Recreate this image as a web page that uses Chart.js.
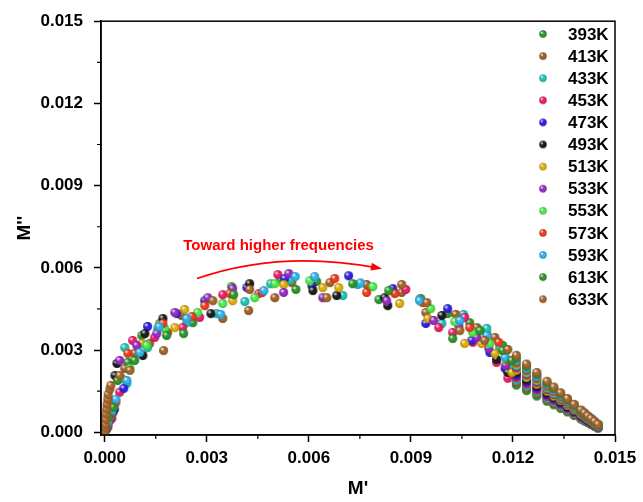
<!doctype html>
<html lang="en">
<head>
<meta charset="utf-8">
<title>Modulus plot M'' vs M'</title>
<script src="https://cdn.jsdelivr.net/npm/chart.js"></script>
<style>
  html, body { margin: 0; padding: 0; background: #fff; }
  #wrap { width: 643px; height: 502px; }
</style>
</head>
<body>
<div id="wrap"><canvas id="chart" width="643" height="502"></canvas></div>
<script>
// temperatures and their colours
const temps = ['393K','413K','433K','453K','473K','493K','513K','533K','553K','573K','593K','613K','633K'];
const colors = ['#2e9e35','#a5642b','#22c7bd','#ef1f6c','#3323e6','#1e1e1e','#e3b20c','#9a2fc4','#4df04d','#f2401e','#33b8f2','#2f9a2f','#a9692d'];
const xTicks = [0, 0.003, 0.006, 0.009, 0.012, 0.015];
const yTicks = [0, 0.003, 0.006, 0.009, 0.012, 0.015];

// [M', M'']
const t393 = [[0.00003,0.00007],[0.00006,0.00029],[0.00012,0.00062],[0.00018,0.00098],[0.00038,0.00200],[0.00068,0.00255],[0.00109,0.00353],[0.00162,0.00397],[0.00259,0.00400],[0.00373,0.00531],[0.00517,0.00557],[0.00623,0.00550],[0.00806,0.00484],[0.00929,0.00488],[0.01008,0.00433],[0.01073,0.00400],[0.01123,0.00360],[0.01170,0.00317],[0.01185,0.00262],[0.01197,0.00218],
  [0.0121,0.00172],[0.0124,0.00152],[0.0127,0.00132],[0.0130,0.00113],[0.0132,0.00100],[0.0134,0.00087],[0.0136,0.00074],[0.0138,0.00061],[0.0140,0.00048],[0.0141,0.00041],[0.0142,0.00035],[0.0143,0.00028],[0.0144,0.00022],[0.0145,0.00015]];
const t413 = [[0.00003,0.00015],[0.00009,0.00051],[0.00015,0.00087],[0.00059,0.00233],[0.00088,0.00288],[0.00132,0.00324],[0.00185,0.00364],[0.00226,0.00426],[0.00347,0.00415],[0.00423,0.00444],[0.00500,0.00491],[0.00550,0.00546],[0.00662,0.00546],[0.00770,0.00539],[0.00873,0.00510],[0.00944,0.00437],[0.01032,0.00430],[0.01094,0.00382],[0.01147,0.00346],[0.01177,0.00291],[0.01197,0.00233],
  [0.0121,0.00181],[0.0124,0.00160],[0.0127,0.00140],[0.0130,0.00119],[0.0132,0.00105],[0.0134,0.00092],[0.0136,0.00078],[0.0138,0.00064],[0.0140,0.00050],[0.0141,0.00044],[0.0142,0.00037],[0.0143,0.00030],[0.0144,0.00023],[0.0145,0.00016]];
const t433 = [[0.00006,0.00022],[0.00015,0.00066],[0.00024,0.00102],[0.00065,0.00178],[0.00059,0.00309],[0.00126,0.00309],[0.00156,0.00379],[0.00241,0.00400],[0.00329,0.00433],[0.00412,0.00477],[0.00488,0.00542],[0.00545,0.00556],[0.00700,0.00499],[0.00744,0.00539],[0.00926,0.00484],[0.00991,0.00397],[0.01055,0.00430],[0.01123,0.00379],[0.01161,0.00309],[0.01191,0.00244],
  [0.0121,0.00190],[0.0124,0.00168],[0.0127,0.00147],[0.0130,0.00125],[0.0132,0.00111],[0.0134,0.00096],[0.0136,0.00082],[0.0138,0.00068],[0.0140,0.00053],[0.0141,0.00046],[0.0142,0.00039],[0.0143,0.00032],[0.0144,0.00024],[0.0145,0.00017]];
const t453 = [[0.00009,0.00025],[0.00021,0.00051],[0.00027,0.00116],[0.00044,0.00146],[0.00082,0.00335],[0.00147,0.00346],[0.00229,0.00382],[0.00279,0.00419],[0.00347,0.00502],[0.00453,0.00506],[0.00509,0.00575],[0.00885,0.00521],[0.00982,0.00382],[0.01023,0.00364],[0.01058,0.00419],[0.01082,0.00328],[0.01152,0.00255],[0.01185,0.00197],
  [0.0121,0.00199],[0.0124,0.00176],[0.0127,0.00154],[0.0130,0.00131],[0.0132,0.00116],[0.0134,0.00101],[0.0136,0.00086],[0.0138,0.00071],[0.0140,0.00056],[0.0141,0.00049],[0.0142,0.00041],[0.0143,0.00034],[0.0144,0.00026],[0.0145,0.00019]];
const t473 = [[0.00006,0.00018],[0.00015,0.00047],[0.00029,0.00084],[0.00056,0.00160],[0.00126,0.00386],[0.00212,0.00433],[0.00294,0.00480],[0.00418,0.00528],[0.00529,0.00561],[0.00609,0.00535],[0.00717,0.00571],[0.00847,0.00524],[0.00944,0.00397],[0.01008,0.00451],[0.01079,0.00335],[0.01132,0.00291],[0.01177,0.00233],
  [0.0121,0.00208],[0.0124,0.00184],[0.0127,0.00161],[0.0130,0.00137],[0.0132,0.00122],[0.0134,0.00106],[0.0136,0.00090],[0.0138,0.00075],[0.0140,0.00059],[0.0141,0.00051],[0.0142,0.00043],[0.0143,0.00035],[0.0144,0.00027],[0.0145,0.00020]];
const t493 = [[0.00004,0.00011],[0.00012,0.00040],[0.00024,0.00073],[0.00030,0.00207],[0.00036,0.00251],[0.00112,0.00280],[0.00118,0.00360],[0.00171,0.00415],[0.00312,0.00433],[0.00426,0.00542],[0.00612,0.00517],[0.00682,0.00499],[0.00823,0.00491],[0.00832,0.00462],[0.00991,0.00426],[0.01152,0.00266],[0.01185,0.00218],
  [0.0121,0.00217],[0.0124,0.00192],[0.0127,0.00168],[0.0130,0.00143],[0.0132,0.00127],[0.0134,0.00111],[0.0136,0.00094],[0.0138,0.00078],[0.0140,0.00062],[0.0141,0.00054],[0.0142,0.00045],[0.0143,0.00037],[0.0144,0.00029],[0.0145,0.00021]];
const t513 = [[0.00006,0.00033],[0.00018,0.00069],[0.00027,0.00109],[0.00050,0.00197],[0.00109,0.00324],[0.00206,0.00382],[0.00235,0.00448],[0.00376,0.00480],[0.00526,0.00539],[0.00641,0.00528],[0.00688,0.00528],[0.00867,0.00470],[0.00950,0.00415],[0.01058,0.00324],[0.01108,0.00324],[0.01147,0.00288],[0.01197,0.00218],
  [0.0121,0.00226],[0.0124,0.00200],[0.0127,0.00175],[0.0130,0.00150],[0.0132,0.00132],[0.0134,0.00116],[0.0136,0.00098],[0.0138,0.00081],[0.0140,0.00065],[0.0141,0.00056],[0.0142,0.00048],[0.0143,0.00039],[0.0144,0.00030],[0.0145,0.00022]];
const t533 = [[0.00009,0.00018],[0.00015,0.00044],[0.00024,0.00087],[0.00044,0.00262],[0.00094,0.00317],[0.00153,0.00360],[0.00206,0.00437],[0.00303,0.00491],[0.00376,0.00524],[0.00541,0.00579],[0.00526,0.00510],[0.00641,0.00491],[0.00829,0.00480],[0.00967,0.00408],[0.01041,0.00389],[0.01094,0.00346],[0.01129,0.00306],[0.01179,0.00244],
  [0.0121,0.00235],[0.0124,0.00209],[0.0127,0.00182],[0.0130,0.00156],[0.0132,0.00138],[0.0134,0.00120],[0.0136,0.00103],[0.0138,0.00085],[0.0140,0.00067],[0.0141,0.00058],[0.0142,0.00050],[0.0143,0.00041],[0.0144,0.00032],[0.0145,0.00023]];
const t553 = [[0.00006,0.00025],[0.00015,0.00058],[0.00027,0.00095],[0.00074,0.00233],[0.00123,0.00317],[0.00176,0.00379],[0.00273,0.00437],[0.00347,0.00470],[0.00441,0.00491],[0.00500,0.00542],[0.00603,0.00553],[0.00788,0.00531],[0.00958,0.00451],[0.01029,0.00404],[0.01082,0.00364],[0.01132,0.00324],[0.01182,0.00262],
  [0.0121,0.00244],[0.0124,0.00217],[0.0127,0.00189],[0.0130,0.00162],[0.0132,0.00143],[0.0134,0.00125],[0.0136,0.00107],[0.0138,0.00088],[0.0140,0.00070],[0.0141,0.00061],[0.0142,0.00052],[0.0143,0.00043],[0.0144,0.00033],[0.0145,0.00024]];
const t573 = [[0.00009,0.00029],[0.00018,0.00066],[0.00033,0.00109],[0.00068,0.00288],[0.00171,0.00397],[0.00256,0.00422],[0.00294,0.00462],[0.00368,0.00506],[0.00463,0.00510],[0.00676,0.00561],[0.00770,0.00510],[0.00853,0.00506],[0.00935,0.00473],[0.01073,0.00382],[0.01158,0.00328],[0.01188,0.00262],
  [0.0121,0.00253],[0.0124,0.00225],[0.0127,0.00196],[0.0130,0.00168],[0.0132,0.00149],[0.0134,0.00130],[0.0136,0.00111],[0.0138,0.00092],[0.0140,0.00073],[0.0141,0.00063],[0.0142,0.00054],[0.0143,0.00044],[0.0144,0.00035],[0.0145,0.00026]];
const t593 = [[0.00009,0.00036],[0.00021,0.00077],[0.00033,0.00120],[0.00065,0.00189],[0.00103,0.00291],[0.00160,0.00385],[0.00241,0.00415],[0.00341,0.00430],[0.00468,0.00517],[0.00560,0.00568],[0.00617,0.00568],[0.00752,0.00545],[0.00926,0.00480],[0.01044,0.00408],[0.01123,0.00353],[0.01177,0.00273],
  [0.0121,0.00262],[0.0124,0.00233],[0.0127,0.00203],[0.0130,0.00174],[0.0132,0.00154],[0.0134,0.00135],[0.0136,0.00115],[0.0138,0.00095],[0.0140,0.00076],[0.0141,0.00066],[0.0142,0.00056],[0.0143,0.00046],[0.0144,0.00036],[0.0145,0.00027]];
const t613 = [[0.00004,0.00018],[0.00012,0.00055],[0.00024,0.00091],[0.00038,0.00189],[0.00088,0.00262],[0.00182,0.00353],[0.00232,0.00360],[0.00379,0.00502],[0.00562,0.00521],[0.00729,0.00542],[0.00835,0.00517],[0.01023,0.00342],[0.01103,0.00371],[0.01170,0.00298],[0.01197,0.00262],
  [0.0121,0.00271],[0.0124,0.00241],[0.0127,0.00211],[0.0130,0.00180],[0.0132,0.00160],[0.0134,0.00140],[0.0136,0.00119],[0.0138,0.00099],[0.0140,0.00079],[0.0141,0.00068],[0.0142,0.00058],[0.0143,0.00048],[0.0144,0.00038],[0.0145,0.00028]];
const t633 = [[0.0,0.0],[0.00001,0.00015],[0.00002,0.00029],[0.00003,0.00047],[0.00004,0.00066],[0.00006,0.00084],[0.00007,0.00102],[0.00009,0.00120],[0.00010,0.00138],[0.00015,0.00157],[0.00018,0.00171],[0.00044,0.00207],[0.00074,0.00226],[0.00173,0.00298],[0.00318,0.00480],[0.00426,0.00521],[0.00653,0.00491],[0.00873,0.00539],[0.00947,0.00473],[0.01044,0.00371],[0.01117,0.00335],[0.01185,0.00302],
  [0.0121,0.00281],[0.0124,0.00249],[0.0127,0.00218],[0.0130,0.00186],[0.0132,0.00165],[0.0134,0.00144],[0.0136,0.00123],[0.0138,0.00102],[0.0140,0.00081],[0.0141,0.00071],[0.0142,0.00060],[0.0143,0.00050],[0.0144,0.00040],[0.0145,0.00029]];

const series = [t393, t413, t433, t453, t473, t493, t513, t533, t553, t573, t593, t613, t633];

// shaded ball used as point marker
function makeBall(color, r) {
  const s = Math.ceil(2 * r + 2);
  const c = document.createElement('canvas');
  c.width = s; c.height = s;
  const g = c.getContext('2d');
  const m = s / 2;
  g.beginPath();
  g.arc(m, m, r, 0, Math.PI * 2);
  g.fillStyle = color;
  g.fill();
  const sh = g.createRadialGradient(m, m, r * 0.45, m, m, r);
  sh.addColorStop(0, 'rgba(0,0,0,0)');
  sh.addColorStop(1, 'rgba(0,0,0,0.22)');
  g.fillStyle = sh;
  g.fill();
  const hx = m - r * 0.3, hy = m - r * 0.35;
  const hl = g.createRadialGradient(hx, hy, 0, hx, hy, r * 0.5);
  hl.addColorStop(0, 'rgba(255,255,255,0.95)');
  hl.addColorStop(1, 'rgba(255,255,255,0)');
  g.fillStyle = hl;
  g.fill();
  return c;
}

const balls = colors.map(c => makeBall(c, 4.5));
const legendBalls = colors.map(c => makeBall(c, 3.7));

const datasets = series.map((pts, i) => ({
  label: temps[i],
  data: pts.map(p => ({x: p[0], y: p[1]})),
  pointStyle: balls[i],
  backgroundColor: colors[i],
  borderColor: colors[i],
  showLine: false,
  order: series.length - 1 - i
}));

// frame, minor ticks, legend and the arrow note
const extras = {
  id: 'extras',
  afterDraw(chart) {
    const ctx = chart.ctx;
    const a = chart.chartArea;
    const xs = chart.scales.x, ys = chart.scales.y;
    ctx.save();
    ctx.strokeStyle = '#000';
    ctx.lineWidth = 1.5;
    ctx.strokeRect(a.left, a.top, a.right - a.left, a.bottom - a.top);
    ctx.lineWidth = 1.2;
    ctx.beginPath();
    for (let k = 0; k < 5; k++) {
      const v = 0.0015 + k * 0.003;
      const px = xs.getPixelForValue(v);
      ctx.moveTo(px, a.bottom); ctx.lineTo(px, a.bottom + 4);
      const py = ys.getPixelForValue(v);
      ctx.moveTo(a.left, py); ctx.lineTo(a.left - 4, py);
    }
    ctx.stroke();

    // legend
    ctx.font = 'bold 17px "Liberation Sans", Arial, sans-serif';
    ctx.fillStyle = '#000';
    ctx.textBaseline = 'middle';
    ctx.textAlign = 'left';
    temps.forEach((t, i) => {
      const y = 34 + i * 22.1;
      const b = legendBalls[i];
      ctx.drawImage(b, 543 - b.width / 2, y - b.height / 2);
      ctx.fillText(t, 568, y + 1);
    });

    // arrow note
    const P = (x, y) => [xs.getPixelForValue(x), ys.getPixelForValue(y)];
    const t = P(0.00511, 0.00681);
    ctx.fillStyle = '#ff0000';
    ctx.textAlign = 'center';
    ctx.font = 'bold 15px "Liberation Sans", Arial, sans-serif';
    ctx.fillText('Toward higher frequencies', t[0], t[1]);
    const p0 = P(0.00271, 0.00561), p1 = P(0.00515, 0.00666), p2 = P(0.00815, 0.00597);
    ctx.strokeStyle = '#ff0000';
    ctx.lineWidth = 1.8;
    ctx.beginPath();
    ctx.moveTo(p0[0], p0[1]);
    ctx.quadraticCurveTo(p1[0], p1[1], p2[0] - 6, p2[1] - 1);
    ctx.stroke();
    const ang = Math.atan2(p2[1] - p1[1], p2[0] - p1[0]);
    ctx.beginPath();
    ctx.moveTo(p2[0], p2[1]);
    ctx.lineTo(p2[0] - 11 * Math.cos(ang) + 4 * Math.sin(ang), p2[1] - 11 * Math.sin(ang) - 4 * Math.cos(ang));
    ctx.lineTo(p2[0] - 11 * Math.cos(ang) - 4 * Math.sin(ang), p2[1] - 11 * Math.sin(ang) + 4 * Math.cos(ang));
    ctx.closePath();
    ctx.fill();
    ctx.restore();
  }
};

const tickFont = {family: '"Liberation Sans", Arial, sans-serif', size: 17, weight: 'bold'};
const titleFont = {family: '"Liberation Sans", Arial, sans-serif', size: 19, weight: 'bold', lineHeight: 1.2};

new Chart(document.getElementById('chart'), {
  type: 'scatter',
  data: {datasets: datasets},
  options: {
    responsive: false,
    animation: false,
    events: [],
    layout: {padding: {top: 20, right: 28, left: 0, bottom: 0}},
    plugins: {legend: {display: false}, tooltip: {enabled: false}},
    scales: {
      x: {
        type: 'linear',
        min: -0.00011,
        max: 0.015,
        afterBuildTicks: s => { s.ticks = xTicks.map(v => ({value: v})); },
        afterFit: s => { s.height = 67; },
        ticks: {callback: v => v.toFixed(3), font: tickFont, color: '#000', padding: 6, maxRotation: 0, autoSkip: false},
        grid: {drawOnChartArea: false, tickLength: 7, tickColor: '#000', tickWidth: 1.5},
        border: {color: '#000', width: 1.5},
        title: {display: true, text: "M'", font: titleFont, color: '#000', padding: {top: 0, bottom: 2}}
      },
      y: {
        type: 'linear',
        min: -0.0001,
        max: 0.015,
        afterBuildTicks: s => { s.ticks = yTicks.map(v => ({value: v})); },
        afterFit: s => { s.width = 101; },
        ticks: {callback: v => v.toFixed(3), font: tickFont, color: '#000', padding: 11, autoSkip: false},
        grid: {drawOnChartArea: false, tickLength: 7, tickColor: '#000', tickWidth: 1.5},
        border: {color: '#000', width: 1.5},
        title: {display: true, text: "M''", font: titleFont, color: '#000', padding: {top: 13, bottom: 0}}
      }
    }
  },
  plugins: [extras]
});
</script>
</body>
</html>
